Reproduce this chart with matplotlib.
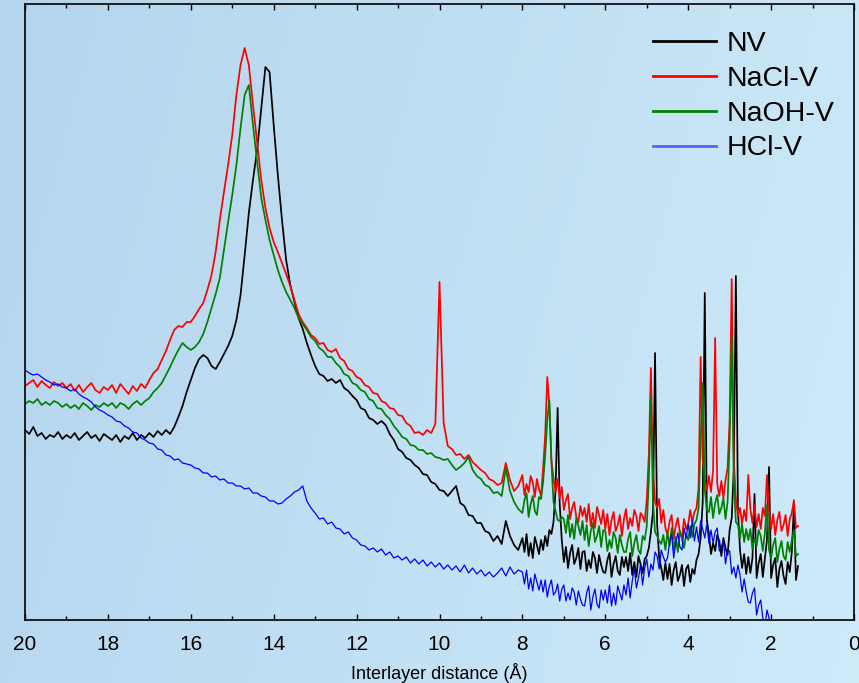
import numpy as np
import matplotlib
matplotlib.use('Agg')
import matplotlib.pyplot as plt
from matplotlib.lines import Line2D
from matplotlib.ticker import MultipleLocator

plt.rcParams['font.family'] = ['Liberation Sans', 'DejaVu Sans']

# sampling positions of the read-off values (Å)
x_left = np.round(20.0 - 0.1 * np.arange(120), 2)     # 20.0 ... 8.1
x_right = np.round(8.0 - 0.05 * np.arange(134), 2)    # 8.00 ... 1.35

labels = ['NV', 'NaCl-V', 'NaOH-V', 'HCl-V']
colors = ['#000000', '#ff0000', '#008000', '#0000ff']

# NV (black)
nv_left = [190, 186, 193, 184, 187, 181, 185, 183, 188, 181,
           185, 182, 187, 180, 184, 188, 182, 185, 179, 186,
           183, 180, 185, 178, 184, 181, 187, 180, 185, 182,
           187, 183, 189, 185, 190, 186, 193, 203, 214, 228,
           240, 252, 261, 265, 262, 254, 251, 258, 266, 274,
           284, 300, 325, 365, 407, 440, 470, 512, 553, 548,
           495, 445, 400, 360, 335, 318, 302, 291, 277, 265,
           254, 246, 244, 239, 241, 237, 240, 232, 229, 224,
           220, 212, 210, 202, 200, 196, 199, 195, 186, 180,
           171, 168, 162, 160, 155, 152, 146, 145, 138, 136,
           130, 129, 124, 129, 134, 117, 114, 105, 104, 97,
           97, 89, 87, 79, 84, 76, 99, 84, 75, 70]
nv_right = [82, 68, 86, 64, 77, 62, 83, 75, 66, 80,
            70, 84, 74, 90, 86, 98, 130, 212, 116, 80,
            58, 73, 52, 67, 75, 56, 62, 72, 51, 68,
            69, 49, 60, 52, 68, 62, 47, 65, 55, 48,
            47, 60, 67, 43, 56, 64, 49, 45, 63, 53,
            63, 49, 67, 45, 58, 43, 64, 56, 47, 61,
            64, 72, 88, 108, 267, 96, 62, 52, 40, 57,
            41, 56, 35, 50, 58, 39, 45, 55, 34, 51,
            55, 38, 51, 46, 60, 66, 82, 118, 327, 100,
            86, 66, 77, 69, 85, 79, 64, 82, 72, 65,
            90, 102, 150, 344, 110, 70, 52, 66, 46, 63,
            47, 62, 126, 42, 57, 66, 43, 62, 80, 153,
            42, 55, 62, 33, 51, 59, 44, 36, 58, 48,
            68, 115, 40, 54]

# NaCl-V (red)
nacl_left = [234, 237, 240, 233, 239, 235, 232, 238, 234, 237,
             232, 236, 229, 235, 228, 233, 237, 230, 227, 233,
             230, 235, 227, 236, 231, 226, 234, 229, 236, 232,
             240, 247, 251, 260, 269, 280, 290, 294, 293, 298,
             298, 304, 311, 317, 330, 345, 368, 400, 428, 455,
             485, 525, 555, 572, 555, 515, 478, 440, 412, 392,
             378, 368, 357, 346, 334, 320, 306, 298, 292, 285,
             282, 276, 277, 270, 268, 271, 262, 259, 251, 249,
             243, 241, 235, 233, 227, 226, 219, 217, 212, 211,
             205, 204, 197, 194, 187, 188, 185, 190, 187, 196,
             338, 197, 174, 171, 165, 166, 161, 165, 158, 154,
             150, 147, 141, 139, 135, 137, 157, 140, 129, 134]
nacl_right = [145, 125, 136, 128, 144, 138, 123, 141, 131, 124,
              152, 185, 243, 215, 160, 142, 128, 141, 122, 133,
              110, 120, 126, 101, 112, 118, 103, 98, 114, 104,
              112, 98, 116, 94, 107, 92, 113, 105, 96, 110,
              91, 106, 85, 100, 108, 89, 95, 105, 84, 101,
              111, 91, 102, 94, 110, 104, 89, 107, 104, 98,
              120, 165, 252, 150, 118, 112, 121, 97, 110, 92,
              85, 98, 105, 81, 94, 102, 87, 83, 101, 91,
              96, 110, 98, 108, 112, 132, 263, 160, 142, 130,
              144, 128, 150, 282, 136, 124, 139, 122, 140, 152,
              200, 341, 160, 121, 104, 112, 96, 110, 99, 145,
              111, 97, 115, 93, 106, 91, 112, 104, 145, 109,
              91, 106, 85, 100, 108, 89, 95, 105, 84, 101,
              107, 120, 92, 94]

# NaOH-V (green)
naoh_left = [216, 219, 217, 221, 215, 218, 215, 219, 217, 213,
             216, 212, 215, 211, 217, 214, 210, 215, 213, 217,
             214, 217, 212, 217, 215, 211, 216, 219, 215, 219,
             222, 228, 232, 237, 245, 253, 262, 270, 277, 273,
             270, 273, 278, 286, 298, 312, 326, 342, 370, 398,
             425, 455, 492, 525, 535, 495, 458, 422, 400, 380,
             365, 350, 338, 328, 320, 312, 302, 296, 290, 283,
             279, 272, 269, 263, 263, 257, 253, 246, 244, 237,
             235, 230, 228, 221, 219, 212, 211, 205, 201, 194,
             189, 183, 181, 175, 174, 170, 170, 166, 167, 163,
             162, 160, 161, 155, 150, 153, 157, 163, 150, 144,
             141, 135, 133, 127, 128, 124, 152, 129, 118, 111]
naoh_right = [107, 120, 127, 103, 116, 124, 109, 105, 123, 121,
              138, 165, 200, 220, 158, 118, 109, 100, 99, 103,
              101, 87, 105, 83, 96, 81, 102, 94, 85, 99,
              80, 95, 74, 89, 97, 78, 84, 94, 73, 90,
              89, 69, 80, 72, 88, 82, 67, 85, 75, 68,
              68, 81, 88, 64, 77, 85, 70, 66, 84, 80,
              94, 140, 223, 120, 88, 84, 79, 76, 85, 70,
              88, 74, 92, 70, 83, 68, 89, 81, 72, 86,
              80, 94, 83, 96, 100, 112, 180, 237, 130, 110,
              108, 123, 102, 117, 125, 106, 112, 122, 101, 118,
              180, 283, 140, 98, 95, 82, 96, 78, 91, 80,
              91, 71, 82, 74, 90, 84, 69, 87, 115, 70,
              62, 75, 82, 58, 71, 79, 64, 60, 78, 68,
              80, 90, 64, 66]

# HCl-V (blue), right part stops at 1.90 Å
hcl_left = [250, 247, 245, 246, 243, 240, 238, 235, 236, 233,
            232, 229, 231, 226, 223, 221, 218, 213, 210, 208,
            205, 203, 199, 198, 194, 192, 188, 187, 182, 180,
            177, 176, 171, 170, 165, 164, 160, 161, 157, 156,
            155, 152, 151, 147, 147, 143, 144, 140, 141, 137,
            137, 134, 134, 131, 132, 127, 127, 124, 123, 119,
            119, 116, 117, 121, 124, 128, 130, 134, 119, 112,
            107, 101, 102, 96, 98, 92, 91, 86, 88, 82,
            80, 75, 74, 70, 72, 68, 71, 65, 68, 62,
            64, 60, 63, 57, 61, 56, 60, 54, 58, 53,
            57, 51, 55, 50, 54, 48, 55, 47, 52, 46,
            50, 44, 48, 43, 47, 52, 44, 53, 46, 50]
hcl_right = [48, 36, 50, 31, 42, 29, 46, 38, 30, 40,
             28, 40, 23, 34, 40, 25, 28, 36, 19, 31,
             35, 19, 27, 20, 32, 28, 15, 29, 21, 15,
             14, 27, 34, 10, 23, 31, 16, 12, 30, 20,
             30, 17, 35, 14, 27, 15, 34, 27, 20, 35,
             25, 42, 22, 39, 52, 32, 42, 55, 35, 52,
             61, 43, 56, 50, 68, 64, 51, 70, 63, 58,
             62, 77, 86, 62, 77, 87, 73, 70, 92, 82,
             96, 82, 100, 79, 93, 78, 99, 91, 82, 96,
             77, 90, 77, 88, 92, 69, 73, 80, 56, 70,
             69, 46, 53, 42, 55, 45, 28, 41, 28, 18,
             17, 27, 32, 5, 15, 20, 2, -6, 10, 2,
             -8, -3, -12]

series = [(nv_left + nv_right, 1.25),
          (nacl_left + nacl_right, 1.25),
          (naoh_left + naoh_right, 1.25),
          (hcl_left + hcl_right, 0.9)]

W, H = 859, 683
fig = plt.figure(figsize=(W / 100, H / 100), dpi=100)

# blue gradient background
bg = fig.add_axes([0, 0, 1, 1], zorder=-10)
c_left = np.array([0.71, 0.835, 0.93])
c_right = np.array([0.79, 0.905, 0.965])
t = np.linspace(0, 1, 300)[None, :, None]
v = np.linspace(0, 1, 100)[:, None, None]
grad = c_left + (c_right - c_left) * t + 0.015 * v
bg.imshow(np.clip(grad, 0, 1), aspect='auto', extent=[0, 1, 0, 1])
bg.axis('off')

ax = fig.add_axes([25 / W, 63 / H, 829 / W, 616 / H])
ax.patch.set_alpha(0)

x_all = np.concatenate([x_left, x_right])
for (vals, lw), c in zip(series, colors):
    xs = x_all[:len(vals)]
    ax.plot(xs, vals, color=c, lw=lw)

ax.set_xlim(20, 0)
ax.set_ylim(0, 616)
ax.set_yticks([])
ax.xaxis.set_major_locator(MultipleLocator(2))
ax.xaxis.set_minor_locator(MultipleLocator(1))
ax.set_xticklabels([f'{int(v)}' for v in ax.get_xticks()])
ax.tick_params(axis='x', which='both', direction='in', top=True, bottom=True,
               labelsize=15, pad=11, width=1)
ax.tick_params(axis='x', which='major', length=4)
ax.tick_params(axis='x', which='minor', length=3)
for s in ax.spines.values():
    s.set_linewidth(1.2)
ax.set_xlabel('Interlayer distance (Å)', fontsize=13, labelpad=6)

handles = [Line2D([], [], color='#000000', lw=2),
           Line2D([], [], color='#ff0000', lw=2),
           Line2D([], [], color='#008000', lw=2),
           Line2D([], [], color='#5563f5', lw=2)]
ax.legend(handles, labels, loc='upper left',
          bbox_to_anchor=(653 / W, 1 - 31 / H), bbox_transform=fig.transFigure,
          frameon=False, fontsize=20.5, handlelength=2.2, handletextpad=0.38,
          labelspacing=0.31, borderpad=0, borderaxespad=0)

fig.savefig('out.png', dpi=100)
